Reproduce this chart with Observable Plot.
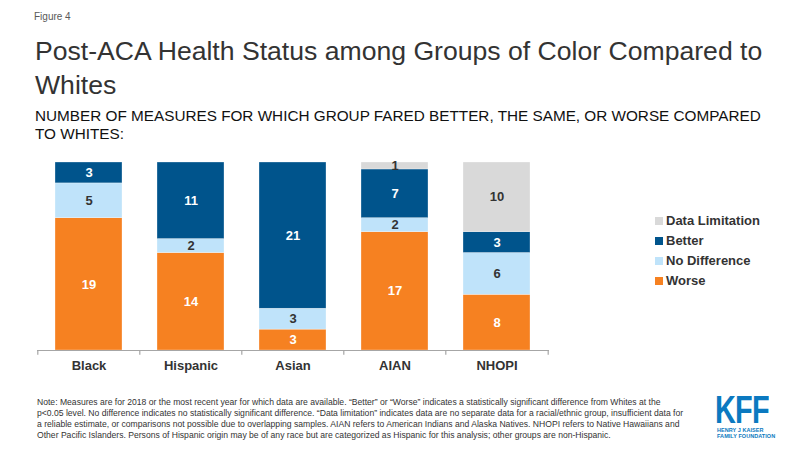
<!DOCTYPE html>
<html>
<head>
<meta charset="utf-8">
<script src="https://cdn.jsdelivr.net/npm/d3@7"></script>
<script src="https://cdn.jsdelivr.net/npm/@observablehq/plot@0.6"></script>
<style>
  html, body { margin: 0; padding: 0; background: #fff; }
  body { width: 800px; height: 450px; position: relative; overflow: hidden; font-family: "Liberation Sans", Arial, sans-serif; color: #333; }
  .abs { position: absolute; }
  #fig { left: 34px; top: 11px; font-size: 10px; color: #595959; }
  #title { left: 35px; top: 34px; font-size: 26.6px; line-height: 34px; color: #333; width: 760px; }
  #subtitle { left: 35px; top: 107px; font-size: 15.3px; line-height: 17.5px; color: #111; width: 760px; }
  #chart { left: 0; top: 150px; }
  #legend { left: 655px; top: 211px; font-size: 13px; font-weight: bold; color: #333; }
  #legend div { height: 20px; line-height: 20px; display: flex; align-items: center; }
  #legend span.sw { display: inline-block; width: 8px; height: 8px; margin-right: 3px; }
  #note { left: 37px; top: 397px; width: 648px; font-size: 8.6px; line-height: 11px; color: #333; }
  #logo-big { left: 715px; top: 393px; color: #0B79C0; font-size: 38px; font-weight: bold; line-height: 34px; letter-spacing: -1px; transform: scaleX(0.76); transform-origin: left top; }
  #logo-small { left: 717px; top: 427px; color: #0B79C0; font-size: 5.5px; line-height: 6px; font-weight: bold; letter-spacing: 0.05px; }
</style>
</head>
<body>
<div id="fig" class="abs">Figure 4</div>
<div id="title" class="abs">Post-ACA Health Status among Groups of Color Compared to Whites</div>
<div id="subtitle" class="abs">NUMBER OF MEASURES FOR WHICH GROUP FARED BETTER, THE SAME, OR WORSE COMPARED<br>TO WHITES:</div>
<div id="chart" class="abs"></div>
<div id="legend" class="abs"></div>
<div id="note" class="abs">Note: Measures are for 2018 or the most recent year for which data are available. “Better” or “Worse” indicates a statistically significant difference from Whites at the p&lt;0.05 level. No difference indicates no statistically significant difference. “Data limitation” indicates data are no separate data for a racial/ethnic group, insufficient data for a reliable estimate, or comparisons not possible due to overlapping samples. AIAN refers to American Indians and Alaska Natives. NHOPI refers to Native Hawaiians and Other Pacific Islanders. Persons of Hispanic origin may be of any race but are categorized as Hispanic for this analysis; other groups are non-Hispanic.</div>
<div id="logo-big" class="abs">KFF</div>
<div id="logo-small" class="abs">HENRY J KAISER<br>FAMILY FOUNDATION</div>
<script>
const groups = ["Black", "Hispanic", "Asian", "AIAN", "NHOPI"];
const statuses = ["Worse", "No Difference", "Better", "Data Limitation"];
const worse = [19, 14, 3, 17, 8];
const noDifference = [5, 2, 3, 2, 6];
const better = [3, 11, 21, 7, 3];
const dataLimitation = [0, 0, 0, 1, 10];
const colors = ["#F68121", "#BFE3FA", "#00548C", "#D9D9D9"];
const labelColors = ["#ffffff", "#333333", "#ffffff", "#333333"];
const legendOrder = ["Data Limitation", "Better", "No Difference", "Worse"];

const seriesValues = [worse, noDifference, better, dataLimitation];
const data = [];
groups.forEach((g, gi) => {
  statuses.forEach((s, si) => {
    data.push({group: g, status: s, value: seriesValues[si][gi], labelColor: labelColors[si]});
  });
});
const nonzero = data.filter(d => d.value > 0);

const W = 600, H = 230, mL = 37, mR = 51, mT = 12, mB = 30;
const step = (W - mL - mR) / groups.length;

const chart = Plot.plot({
  width: W, height: H,
  marginLeft: mL, marginRight: mR, marginTop: mT, marginBottom: mB,
  x: {domain: groups, paddingInner: 0.34, paddingOuter: 0.17, label: null},
  y: {domain: [0, 27], axis: null},
  color: {domain: statuses, range: colors},
  style: {fontFamily: "Liberation Sans, Arial, sans-serif", background: "transparent"},
  marks: [
    Plot.barY(nonzero, {x: "group", y: "value", fill: "status", order: statuses, stroke: "#fff", strokeWidth: 0.5, strokeOpacity: 0.6}),
    Plot.text(nonzero, Plot.stackY({x: "group", y: "value", order: statuses, text: d => String(d.value), fill: "labelColor", fontSize: 13, fontWeight: "bold"})),
    Plot.ruleY([0], {stroke: "#a6a6a6", strokeWidth: 1.2}),
    Plot.ruleX(groups, {x: d => d, dx: -step / 2, y1: 0, y2: -0.7, stroke: "#a6a6a6", strokeWidth: 1.2}),
    Plot.ruleX(groups.slice(-1), {x: d => d, dx: step / 2, y1: 0, y2: -0.7, stroke: "#a6a6a6", strokeWidth: 1.2}),
    Plot.axisX({tickSize: 0, tickPadding: 10, fontSize: 13, fontWeight: "bold", fill: "#333", label: null})
  ]
});
document.getElementById("chart").appendChild(chart);

const legend = document.getElementById("legend");
legendOrder.forEach(s => {
  const row = document.createElement("div");
  const sw = document.createElement("span");
  sw.className = "sw";
  sw.style.background = colors[statuses.indexOf(s)];
  row.appendChild(sw);
  row.appendChild(document.createTextNode(s));
  legend.appendChild(row);
});
</script>
</body>
</html>
